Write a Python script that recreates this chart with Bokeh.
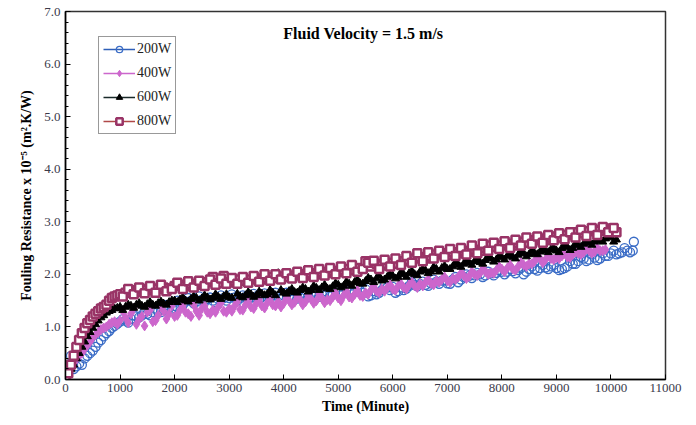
from bokeh.plotting import figure
from bokeh.models import (ColumnDataSource, Legend, LegendItem, Label,
                          FixedTicker, NumeralTickFormatter)
from bokeh.embed import file_html
from bokeh.resources import INLINE

# ---------------- data ----------------
# main reading times (minutes)
time_min = [
    0, 50, 100, 150, 200, 250, 300, 350, 400, 450,
    500, 550, 600, 650, 700, 750, 800, 850, 900, 950,
    1000,
    1100, 1200, 1300, 1400, 1500, 1600, 1700, 1800, 1900, 2000,
    2100, 2200, 2300, 2400, 2500, 2600, 2700, 2800, 2900, 3000,
    3100, 3200, 3300, 3400, 3500, 3600, 3700, 3800, 3900, 4000,
    4100, 4200, 4300, 4400, 4500, 4600, 4700, 4800, 4900, 5000,
    5100, 5200, 5300, 5400, 5500, 5600, 5700, 5800, 5900, 6000,
    6100, 6200, 6300, 6400, 6500, 6600, 6700, 6800, 6900, 7000,
    7100, 7200, 7300, 7400, 7500, 7600, 7700, 7800, 7900, 8000,
    8100, 8200, 8300, 8400, 8500, 8600, 8700, 8800, 8900, 9000,
    9100, 9200, 9300, 9400, 9500, 9600, 9700, 9800, 9900, 10000,
    10100, 10200, 10300, 10400, 10420,
]
# intermediate reading times (minutes)
time_mid = [
    1050, 1150, 1250, 1350, 1450, 1550, 1650, 1750, 1850, 1950,
    2050, 2150, 2250, 2350, 2450, 2550, 2650, 2750, 2850, 2950,
    3050, 3150, 3250, 3350, 3450, 3550, 3650, 3750, 3850, 3950,
    4050, 4150, 4250, 4350, 4450, 4550, 4650, 4750, 4850, 4950,
    5050, 5150, 5250, 5350, 5450, 5550, 5650, 5750, 5850, 5950,
    6050, 6150, 6250, 6350, 6450, 6550, 6650, 6750, 6850, 6950,
    7050, 7150, 7250, 7350, 7450, 7550, 7650, 7750, 7850, 7950,
    8050, 8150, 8250, 8350, 8450, 8550, 8650, 8750, 8850, 8950,
    9050, 9150, 9250, 9350, 9450, 9550, 9650, 9750, 9850, 9950,
    10050, 10150, 10250, 10350,
]

rf_200w = [
    0.0, 0.15, 0.45, 0.2, 0.25, 0.3, 0.28, 0.4, 0.45, 0.5,
    0.55, 0.62, 0.7, 0.75, 0.82, 0.88, 0.92, 0.98, 1.02, 1.06,
    1.1,
    1.12, 1.15, 1.2, 1.22, 1.25, 1.28, 1.3, 1.33, 1.36, 1.4,
    1.45, 1.48, 1.5, 1.48, 1.52, 1.53, 1.5, 1.53, 1.55, 1.55,
    1.56, 1.55, 1.57, 1.56, 1.58, 1.57, 1.58, 1.6, 1.58, 1.6,
    1.58, 1.55, 1.56, 1.6, 1.62, 1.6, 1.62, 1.63, 1.62, 1.65,
    1.66, 1.68, 1.66, 1.7, 1.72, 1.6, 1.62, 1.7, 1.75, 1.76,
    1.68, 1.7, 1.78, 1.8, 1.82, 1.8, 1.83, 1.86, 1.88, 1.83,
    1.9, 1.85, 1.95, 1.97, 1.98, 2.0, 1.98, 2.02, 2.03, 2.05,
    2.05, 2.06, 2.08, 2.0, 2.1, 2.1, 2.12, 2.13, 2.15, 2.12,
    2.1, 2.15, 2.2, 2.25, 2.3, 2.28, 2.32, 2.3, 2.35, 2.4,
    2.38, 2.42, 2.45, 2.45, 2.62,
]
rf_200w_mid = [
    1.15, 1.08, 1.22, 1.18, 1.3, 1.22, 1.35, 1.28, 1.42, 1.35,
    1.5, 1.42, 1.55, 1.45, 1.58, 1.48, 1.56, 1.47, 1.6, 1.5,
    1.62, 1.5, 1.6, 1.52, 1.63, 1.52, 1.64, 1.55, 1.65, 1.55,
    1.65, 1.52, 1.54, 1.65, 1.57, 1.67, 1.57, 1.68, 1.58, 1.7,
    1.6, 1.72, 1.62, 1.75, 1.65, 1.58, 1.68, 1.65, 1.78, 1.7,
    1.65, 1.75, 1.73, 1.85, 1.77, 1.86, 1.78, 1.9, 1.82, 1.88,
    1.82, 1.95, 1.9, 2.0, 1.93, 2.03, 1.95, 2.05, 1.98, 2.08,
    2.0, 2.1, 2.02, 2.12, 2.05, 2.15, 2.07, 2.18, 2.1, 2.18,
    2.08, 2.12, 2.25, 2.2, 2.33, 2.25, 2.38, 2.27, 2.4, 2.35,
    2.45, 2.4, 2.5, 2.42,
]

rf_400w = [
    0.0, 0.1, 0.2, 0.3, 0.38, 0.45, 0.5, 0.58, 0.65, 0.72,
    0.8, 0.85, 0.9, 0.95, 0.98, 1.0, 1.05, 1.08, 1.1, 1.05,
    1.12,
    1.18, 1.25, 1.05, 1.2, 1.28, 1.1, 1.22, 1.3, 1.25, 1.2,
    1.32, 1.28, 1.2, 1.3, 1.35, 1.28, 1.32, 1.38, 1.3, 1.35,
    1.4, 1.33, 1.42, 1.38, 1.45, 1.4, 1.46, 1.42, 1.48, 1.45,
    1.5, 1.47, 1.52, 1.48, 1.53, 1.5, 1.55, 1.52, 1.57, 1.55,
    1.6, 1.57, 1.62, 1.6, 1.65, 1.7, 1.68, 1.72, 1.75, 1.72,
    1.78, 1.75, 1.8, 1.78, 1.82, 1.85, 1.83, 1.88, 1.9, 1.88,
    1.92, 1.95, 1.98, 1.96, 2.0, 2.02, 2.05, 2.03, 2.08, 2.1,
    2.12, 2.1, 2.15, 2.18, 2.2, 2.25, 2.3, 2.28, 2.3, 2.32,
    2.35, 2.33, 2.38, 2.4, 2.42, 2.45, 2.43, 2.45, 2.47,
]
rf_400w_mid = [
    1.3, 1.08, 1.35, 1.15, 1.02, 1.32, 1.12, 1.38, 1.15, 1.4,
    1.22, 1.4, 1.25, 1.42, 1.22, 1.4, 1.25, 1.28, 1.45, 1.28,
    1.3, 1.48, 1.32, 1.5, 1.35, 1.52, 1.36, 1.55, 1.4, 1.38,
    1.55, 1.42, 1.58, 1.42, 1.6, 1.45, 1.62, 1.46, 1.5, 1.65,
    1.5, 1.68, 1.55, 1.7, 1.58, 1.62, 1.78, 1.65, 1.68, 1.8,
    1.7, 1.82, 1.72, 1.85, 1.75, 1.78, 1.9, 1.8, 1.85, 1.95,
    1.85, 1.9, 2.02, 1.92, 2.05, 1.98, 2.1, 2.0, 2.02, 2.15,
    2.05, 2.18, 2.08, 2.22, 2.15, 2.2, 2.32, 2.22, 2.35, 2.28,
    2.3, 2.4, 2.32, 2.42, 2.38, 2.48, 2.4, 2.5, 2.45,
]

rf_600w = [
    0.0, 0.1, 0.2, 0.28, 0.4, 0.5, 0.62, 0.72, 0.82, 0.9,
    0.98, 1.05, 1.12, 1.18, 1.22, 1.27, 1.3, 1.32, 1.35, 1.36,
    1.38,
    1.38, 1.4, 1.42, 1.4, 1.43, 1.42, 1.45, 1.44, 1.47, 1.5,
    1.52, 1.5, 1.53, 1.55, 1.54, 1.56, 1.55, 1.57, 1.58, 1.56,
    1.93, 1.58, 1.6, 1.62, 1.6, 1.63, 1.62, 1.65, 2.02, 1.65,
    1.68, 1.66, 1.7, 1.72, 1.7, 1.74, 1.75, 1.73, 1.77, 1.8,
    1.78, 1.82, 1.85, 1.83, 1.87, 1.9, 1.92, 1.88, 1.95, 1.97,
    1.95, 2.0, 2.02, 2.0, 2.05, 2.07, 2.05, 2.1, 2.12, 2.1,
    2.15, 2.18, 2.2, 2.22, 2.25, 2.23, 2.27, 2.3, 2.28, 2.32,
    2.35, 2.33, 2.37, 2.4, 2.38, 2.4, 2.43, 2.45, 2.47, 2.45,
    2.5, 2.52, 2.5, 2.55, 2.58, 2.6, 2.62, 2.65, 2.68, 2.7,
    2.66,
]
rf_600w_mid = [
    1.32, 1.42, 1.36, 1.45, 1.38, 1.47, 1.4, 1.48, 1.42, 1.5,
    1.47, 1.56, 1.48, 1.58, 1.5, 1.6, 1.52, 1.62, 1.53, 1.62,
    1.55, 1.63, 1.56, 1.66, 1.57, 1.67, 1.6, 1.7, 1.6, 1.7,
    1.63, 1.72, 1.65, 1.75, 1.67, 1.78, 1.7, 1.8, 1.72, 1.83,
    1.75, 1.86, 1.78, 1.9, 1.82, 1.93, 1.85, 1.97, 1.9, 2.0,
    1.92, 2.04, 1.95, 2.06, 1.98, 2.1, 2.02, 2.14, 2.05, 2.16,
    2.1, 2.22, 2.14, 2.25, 2.18, 2.28, 2.2, 2.32, 2.24, 2.35,
    2.28, 2.38, 2.3, 2.42, 2.34, 2.45, 2.38, 2.48, 2.42, 2.5,
    2.42, 2.55, 2.46, 2.58, 2.52, 2.63, 2.56, 2.68, 2.62, 2.72,
    2.62,
]

rf_800w = [
    0.0, 0.12, 0.28, 0.45, 0.62, 0.75, 0.88, 0.98, 1.07, 1.13,
    1.2, 1.25, 1.3, 1.35, 1.38, 1.42, 1.5, 1.55, 1.58, 1.6,
    1.62,
    1.65, 1.7, 1.67, 1.72, 1.7, 1.73, 1.72, 1.75, 1.73, 1.78,
    1.8, 1.78, 1.82, 1.8, 1.83, 1.85, 1.95, 1.83, 1.97, 1.85,
    1.87, 1.9, 1.88, 1.9, 1.92, 1.9, 1.93, 1.95, 1.93, 1.96,
    1.95, 1.98, 2.0, 1.98, 2.02, 2.0, 2.05, 2.03, 2.07, 2.05,
    2.08, 2.1, 2.08, 2.12, 2.25, 2.15, 2.2, 2.17, 2.2, 2.22,
    2.2, 2.25, 2.28, 2.3, 2.33, 2.3, 2.35, 2.38, 2.4, 2.37,
    2.42, 2.4, 2.45, 2.43, 2.47, 2.45, 2.5, 2.55, 2.52, 2.55,
    2.58, 2.55, 2.6, 2.62, 2.6, 2.65, 2.68, 2.65, 2.7, 2.72,
    2.7, 2.75, 2.78, 2.8, 2.78, 2.82, 2.85, 2.83, 2.87, 2.85,
    2.8,
]
rf_800w_mid = [
    1.58, 1.72, 1.62, 1.75, 1.64, 1.78, 1.65, 1.8, 1.68, 1.72,
    1.84, 1.72, 1.87, 1.75, 1.88, 1.78, 1.9, 1.8, 1.92, 1.82,
    1.93, 1.82, 1.95, 1.84, 1.97, 1.86, 2.0, 1.88, 2.0, 1.9,
    2.02, 1.92, 2.05, 1.93, 2.08, 1.95, 2.1, 1.98, 2.12, 2.0,
    2.15, 2.02, 2.18, 2.05, 2.1, 2.22, 2.26, 2.1, 2.28, 2.15,
    2.3, 2.18, 2.35, 2.22, 2.4, 2.25, 2.42, 2.3, 2.45, 2.33,
    2.48, 2.35, 2.5, 2.38, 2.55, 2.4, 2.58, 2.45, 2.6, 2.48,
    2.63, 2.5, 2.66, 2.55, 2.7, 2.58, 2.72, 2.6, 2.75, 2.65,
    2.78, 2.67, 2.8, 2.7, 2.85, 2.73, 2.88, 2.75, 2.9, 2.8,
    2.88,
]

series_labels = ["200W", "400W", "600W", "800W"]
x_ticks = [0, 1000, 2000, 3000, 4000, 5000, 6000, 7000, 8000, 9000, 10000, 11000]
y_ticks = [0.0, 1.0, 2.0, 3.0, 4.0, 5.0, 6.0, 7.0]
title_text = "Fluid Velocity = 1.5 m/s"
x_title = "Time (Minute)"
y_title = "Fouling Resistance x 10\u207b\u2075 (m\u00b2.K/W)"

# ---------------- figure ----------------
SERIF = "Liberation Serif"

p = figure(width=696, height=425, output_backend="svg", toolbar_location=None,
           x_range=(0, 11000), y_range=(0, 7.0),
           min_border_left=65, min_border_right=31,
           min_border_top=11, min_border_bottom=46)
p.background_fill_color = "white"
p.border_fill_color = "white"
p.outline_line_color = "#333333"
p.outline_line_width = 1.5
p.xgrid.grid_line_color = None
p.ygrid.grid_line_color = None

for ax in (p.xaxis[0], p.yaxis[0]):
    ax.axis_line_color = "black"
    ax.axis_line_width = 1.5
    ax.major_tick_in = 5
    ax.major_tick_out = 0
    ax.major_tick_line_color = "black"
    ax.major_label_text_font = SERIF
    ax.major_label_text_font_size = "13px"
    ax.major_label_text_color = "#3a3a4a"
    ax.axis_label_text_font = SERIF
    ax.axis_label_text_font_style = "bold"
    ax.axis_label_text_font_size = "14px"
    ax.axis_label_text_color = "black"

p.xaxis.ticker = FixedTicker(ticks=x_ticks)
p.xaxis.formatter = NumeralTickFormatter(format="0")
p.xaxis.minor_tick_line_color = None
p.xaxis.major_label_standoff = 4
p.xaxis.axis_label = x_title
p.xaxis.axis_label_standoff = 4

minor_y = [round(i * 0.2, 1) for i in range(36) if i % 5 != 0]
p.yaxis.ticker = FixedTicker(ticks=y_ticks, minor_ticks=minor_y)
p.yaxis.formatter = NumeralTickFormatter(format="0.0")
p.yaxis.minor_tick_in = 3
p.yaxis.minor_tick_out = 0
p.yaxis.minor_tick_line_color = "black"
p.yaxis.major_label_standoff = 5
p.yaxis.axis_label = y_title
p.yaxis.axis_label_standoff = 7

styles = [
    dict(marker="circle", size=9, fill_color=None, line_color="#3a6cc6", line_width=1.3,
         legend_line="#2f5fb8"),
    dict(marker="diamond", size=10, fill_color="#cc66cc", line_color="#cc66cc", line_width=1,
         legend_line="#cc66cc"),
    dict(marker="triangle", size=8, fill_color="black", line_color="black", line_width=1,
         legend_line="#1a2a2a"),
    dict(marker="square", size=8, fill_color="white", line_color="#993366", line_width=2.5,
         legend_line="#b04848"),
]
series_main = [rf_200w, rf_400w, rf_600w, rf_800w]
series_mid = [rf_200w_mid, rf_400w_mid, rf_600w_mid, rf_800w_mid]

items = []
for lab, va, vb, st in zip(series_labels, series_main, series_mid, styles):
    t_all = time_min[:len(va)] + time_mid[:len(vb)]
    src = ColumnDataSource(dict(t=t_all, rf=va + vb))
    sr = p.scatter("t", "rf", source=src, marker=st["marker"], size=st["size"],
                   fill_color=st["fill_color"], line_color=st["line_color"],
                   line_width=st["line_width"])
    # legend-only line glyph (hidden on the plot)
    lr = p.line("t", "rf", source=ColumnDataSource(dict(t=time_min[:len(va)], rf=va)),
                line_color=st["legend_line"], line_width=1.5, visible=False)
    items.append(LegendItem(label=lab, renderers=[lr, sr]))

legend = Legend(items=items, location=(33, 245),
                label_text_font=SERIF, label_text_font_size="14px",
                label_text_color="#222222",
                glyph_width=32, glyph_height=16, label_height=16,
                label_standoff=2, spacing=8, padding=4, margin=0,
                border_line_color="#333333", border_line_width=1,
                background_fill_color="white", background_fill_alpha=1,
                inactive_fill_alpha=0)
p.add_layout(legend, "center")

p.add_layout(Label(x=5460, y=6.58, text=title_text, text_align="center",
                   text_baseline="middle", text_font=SERIF, text_font_style="bold",
                   text_font_size="16px", text_color="black"))

open("out.html", "w").write(file_html(p, INLINE))
